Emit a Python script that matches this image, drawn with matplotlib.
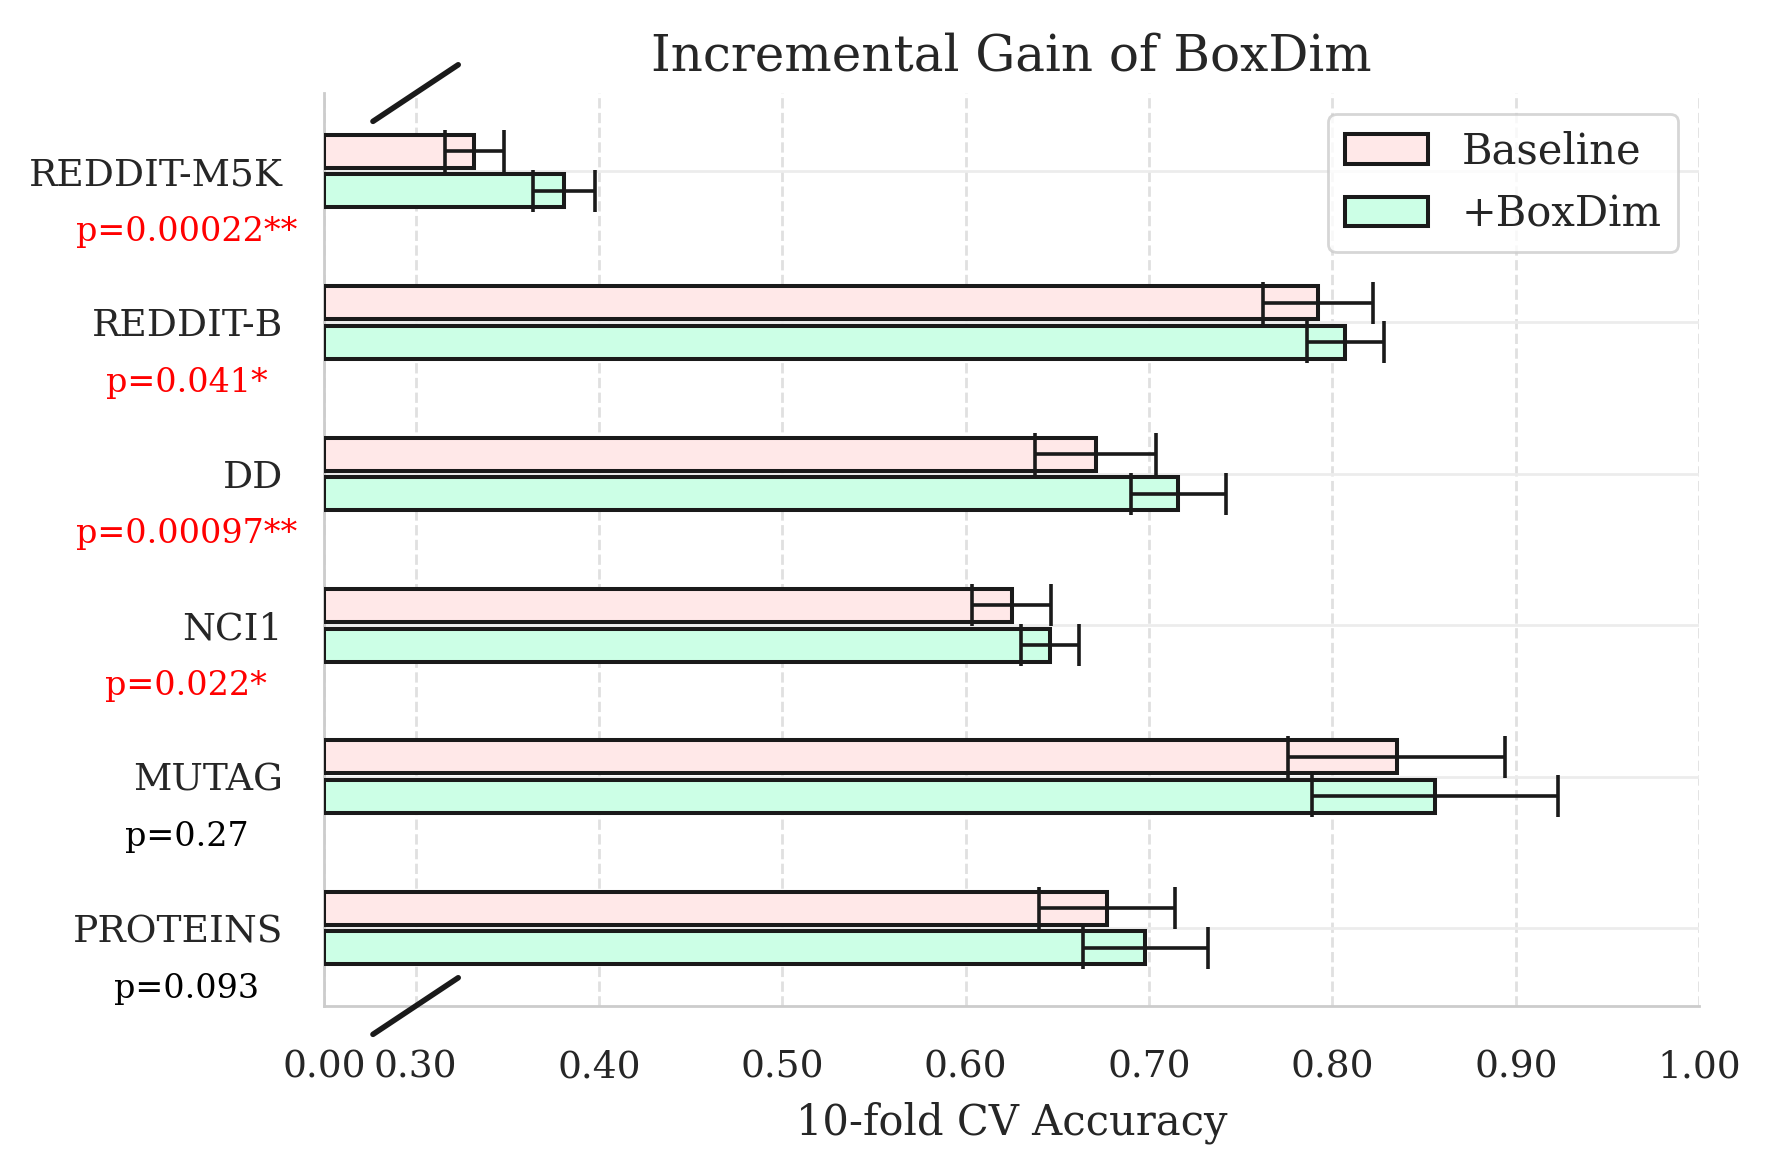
import matplotlib
matplotlib.use("Agg")
import matplotlib.pyplot as plt
import numpy as np
import seaborn as sns

# ---- data ----
datasets = ["REDDIT-M5K", "REDDIT-B", "DD", "NCI1", "MUTAG", "PROTEINS"]
baseline_mean = [0.332, 0.792, 0.671, 0.625, 0.835, 0.677]
baseline_std = [0.016, 0.030, 0.033, 0.0215, 0.059, 0.037]
boxdim_mean = [0.381, 0.807, 0.716, 0.646, 0.856, 0.698]
boxdim_std = [0.017, 0.021, 0.026, 0.016, 0.067, 0.034]
p_labels = ["p=0.00022**", "p=0.041*", "p=0.00097**", "p=0.022*", "p=0.27", "p=0.093"]
p_colors = ["red", "red", "red", "red", "black", "black"]
xtick_values = [0.25, 0.30, 0.40, 0.50, 0.60, 0.70, 0.80, 0.90, 1.00]
xtick_labels = ["0.00", "0.30", "0.40", "0.50", "0.60", "0.70", "0.80", "0.90", "1.00"]

sns.set_style("whitegrid")
plt.rcParams["font.family"] = ["DejaVu Serif"]

fig = plt.figure(figsize=(8.85, 5.86), dpi=200)
ax = fig.add_axes([0.183, 0.1416, 0.777, 0.779])

y = np.arange(len(datasets))
h = 0.218
off = 0.131
edge = "#1a1a1a"
x0 = 0.25
ax.barh(y - off, np.array(baseline_mean) - x0, left=x0, height=h, color="#ffe8e8",
        edgecolor=edge, linewidth=1.45, label="Baseline", zorder=3)
ax.barh(y + off, np.array(boxdim_mean) - x0, left=x0, height=h, color="#ccffe6",
        edgecolor=edge, linewidth=1.45, label="+BoxDim", zorder=3)
ax.errorbar(baseline_mean, y - off, xerr=baseline_std, fmt="none", ecolor=edge,
            elinewidth=1.3, capsize=7.5, capthick=1.3, zorder=4)
ax.errorbar(boxdim_mean, y + off, xerr=boxdim_std, fmt="none", ecolor=edge,
            elinewidth=1.3, capsize=7.5, capthick=1.3, zorder=4)

ax.set_xlim(0.25, 1.0)
ax.set_ylim(len(datasets) - 0.485, -0.515)
ax.set_xticks(xtick_values)
ax.set_xticklabels(xtick_labels, fontsize=13.5, color="#262626")
ax.set_yticks(y)
ax.set_yticklabels(datasets, fontsize=13.5, color="#262626")
ax.tick_params(axis="y", pad=11.3)
ax.tick_params(axis="x", pad=12)

ax.grid(axis="x", linestyle="--", color="#e0e0e0", linewidth=1.0)
ax.grid(axis="y", linestyle="-", color="#ececec", linewidth=1.0)
ax.set_axisbelow(True)
for s in ["top", "right"]:
    ax.spines[s].set_visible(False)
for s in ["left", "bottom"]:
    ax.spines[s].set_color("#cccccc")
    ax.spines[s].set_linewidth(1.0)

for yi, txt, c in zip(y, p_labels, p_colors):
    ax.text(-0.1, yi + 0.4, txt, transform=ax.get_yaxis_transform(), ha="center",
            va="center", color=c, fontsize=12)

# break marks
xc = (0.30 - 0.25) / 0.75
d = 0.031
for yy in (0.0, 1.0):
    ax.plot([xc - d, xc + d], [yy - d, yy + d], transform=ax.transAxes, color=edge,
            lw=2.0, clip_on=False, solid_capstyle="round", zorder=5)

ax.set_xlabel("10-fold CV Accuracy", fontsize=15, color="#262626", labelpad=6)
ax.set_title("Incremental Gain of BoxDim", fontsize=18, color="#262626", pad=8)
leg = ax.legend(loc="upper right", fontsize=15, frameon=True)
leg.get_frame().set_edgecolor("#cccccc")

fig.savefig("out.png", dpi=200)
